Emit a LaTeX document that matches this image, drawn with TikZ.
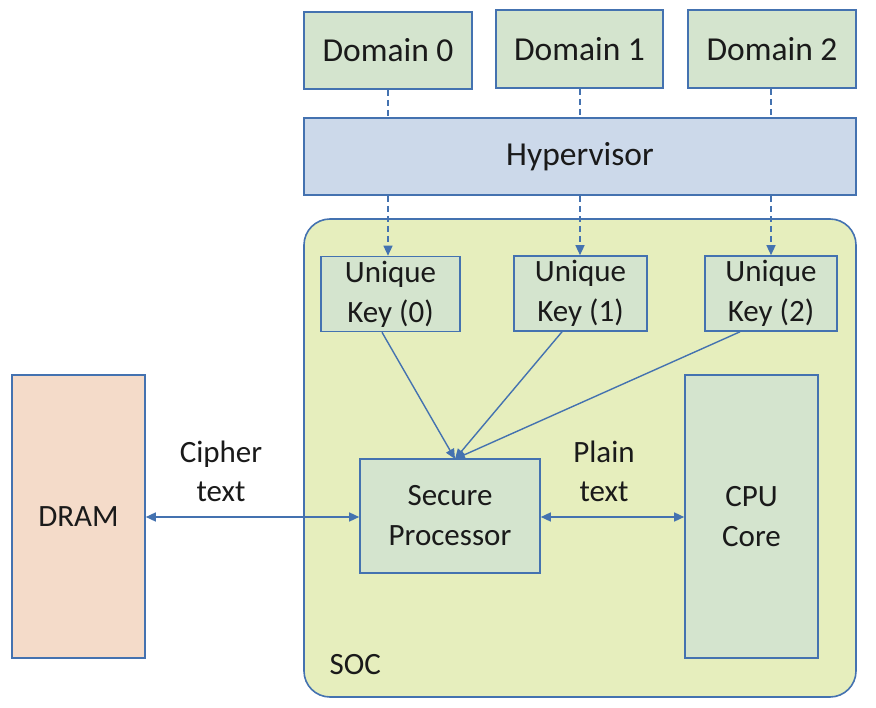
\documentclass[tikz,border=0pt]{standalone}
\usepackage{fontspec}
\setmainfont{Carlito}
\usetikzlibrary{arrows.meta}
\definecolor{edge}{HTML}{4472B0}
\definecolor{greenbox}{HTML}{D4E4CE}
\definecolor{hyperfill}{HTML}{CCD9EA}
\definecolor{socfill}{HTML}{E6EEBD}
\definecolor{dramfill}{HTML}{F4DBC9}
\definecolor{txt}{HTML}{1A1A1A}
\begin{document}
\begin{tikzpicture}[x=1pt,y=-1pt,
  box/.style={draw=edge,line width=1.6pt,fill=greenbox,text=txt,font=\fontsize{31}{40}\selectfont,align=center},
  big/.style={font=\fontsize{33.5}{40}\selectfont},
  conn/.style={draw=edge,line width=1.4pt,-{Triangle[length=10pt,width=9pt]}},
  dconn/.style={conn,dashed,dash pattern=on 6pt off 4pt},
  both/.style={draw=edge,line width=1.4pt,{Triangle[length=10pt,width=9pt]}-{Triangle[length=10pt,width=9pt]}},
  lbl/.style={text=txt,font=\fontsize{31}{39}\selectfont,align=center}]
\useasboundingbox (0,0) rectangle (876,708);
% SOC
\draw[draw=edge,line width=1.6pt,fill=socfill,rounded corners=26pt] (304,219) rectangle (856,697);
\node[lbl,anchor=base west] (soc) at (326,674) {SOC};
% domains
\node[box,big,minimum width=168pt,minimum height=77pt] (d0) at (388,50.5) {Domain 0};
\node[box,big,minimum width=167pt,minimum height=78pt] (d1) at (579.5,49) {Domain 1};
\node[box,big,minimum width=168pt,minimum height=78pt] (d2) at (772,49) {Domain 2};
\node[box,big,fill=hyperfill,minimum width=552pt,minimum height=77pt] (hv) at (580,156.5) {Hypervisor};
% keys
\node[box,minimum width=139pt,minimum height=75pt,inner sep=0pt] (k0) at (390.5,294) {Unique\\Key (0)};
\node[box,minimum width=133pt,minimum height=75pt,inner sep=0pt] (k1) at (580.5,293.5) {Unique\\Key (1)};
\node[box,minimum width=132pt,minimum height=75pt,inner sep=0pt] (k2) at (771,293.5) {Unique\\Key (2)};
% processors
\node[box,minimum width=180pt,minimum height=114pt] (sp) at (450,516) {Secure\\Processor};
\node[box,minimum width=133pt,minimum height=283pt] (cpu) at (751.5,516.5) {CPU\\Core};
\node[box,fill=dramfill,minimum width=133pt,minimum height=283pt] (dram) at (78.5,516.5) {DRAM};
% dashed
\draw[edge,line width=1.4pt,dash pattern=on 6pt off 4pt] (d0.south -| 388,0) -- (hv.north -| 388,0);
\draw[edge,line width=1.4pt,dash pattern=on 6pt off 4pt] (d1.south -| 580,0) -- (hv.north -| 580,0);
\draw[edge,line width=1.4pt,dash pattern=on 6pt off 4pt] (d2.south -| 771,0) -- (hv.north -| 771,0);
\draw[dconn] (hv.south -| 388,0) -- (k0.north -| 388,0);
\draw[dconn] (hv.south -| 580,0) -- (k1.north -| 580,0);
\draw[dconn] (hv.south -| 771,0) -- (k2.north -| 771,0);
% key arrows
\coordinate (spt) at (455,459);
\draw[conn] (k0.south -| 382,0) -- (spt);
\draw[conn] (k1.south -| 562,0) -- (spt);
\draw[conn] (k2.south -| 740,0) -- (spt);
% data arrows
\draw[both] (dram.east |- 0,517) -- (sp.west |- 0,517);
\draw[both] (sp.east |- 0,517) -- (cpu.west |- 0,517);
\node[lbl] (ct) at (221,471) {Cipher\\text};
\node[lbl] (pt) at (604,471) {Plain\\text};
\end{tikzpicture}
\end{document}
